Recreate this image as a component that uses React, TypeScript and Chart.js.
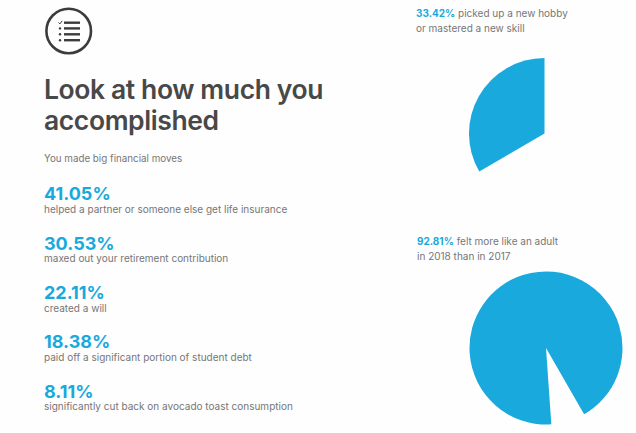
import React, { useEffect, useRef } from "react";
import { Chart, registerables } from "chart.js";

Chart.register(...registerables);

const headingLines = ["Look at how much you", "accomplished"];
const intro = "You made big financial moves";
const moveValues = [41.05, 30.53, 22.11, 18.38, 8.11];
const moveLabels = [
  "helped a partner or someone else get life insurance",
  "maxed out your retirement contribution",
  "created a will",
  "paid off a significant portion of student debt",
  "significantly cut back on avocado toast consumption",
];
const moveValueCentres = [193, 243, 292, 341, 391];
const moveLabelCentres = [209, 258, 308, 357, 406];

const hobbyShare = 33.42;
const hobbyCaption = ["picked up a new hobby", "or mastered a new skill"];
const adultShare = 92.81;
const adultCaption = ["felt more like an adult", "in 2018 than in 2017"];

const BLUE = "#19a9dc";
const DARK = "#484848";
const GREY = "#767676";
const FONT = "Inter, 'Noto Sans', sans-serif";

type PieProps = {
  share: number;
  rotation: number;
  radius: number;
  left: number;
  top: number;
  size: number;
};

function SharePie({ share, rotation, radius, left, top, size }: PieProps) {
  const ref = useRef<HTMLCanvasElement>(null);
  useEffect(() => {
    const chart = new Chart(ref.current!, {
      type: "pie",
      data: {
        labels: ["Yes", "Other"],
        datasets: [
          {
            data: [share, 100 - share],
            backgroundColor: [BLUE, "rgba(0,0,0,0)"],
            borderWidth: 0,
            radius,
          },
        ],
      },
      options: {
        responsive: false,
        animation: false,
        rotation,
        layout: { padding: 0 },
        plugins: { legend: { display: false }, tooltip: { enabled: false } },
      },
    });
    return () => chart.destroy();
  }, [share, rotation, radius]);
  return (
    <canvas
      ref={ref}
      width={size}
      height={size}
      style={{ position: "absolute", left, top, width: size, height: size }}
    />
  );
}

function Line(props: {
  x: number;
  cy: number;
  size: number;
  weight: number;
  color: string;
  spacing?: number;
  children: React.ReactNode;
}) {
  const { x, cy, size, weight, color, spacing = 0, children } = props;
  const box = Math.ceil(size * 1.15);
  return (
    <div
      style={{
        position: "absolute",
        left: x,
        top: cy - box / 2,
        height: box,
        lineHeight: `${box}px`,
        fontSize: size,
        fontWeight: weight,
        color,
        letterSpacing: spacing,
        whiteSpace: "nowrap",
      }}
    >
      {children}
    </div>
  );
}

function ChecklistIcon() {
  const rows = [22.7, 28.4, 34.3, 40.2];
  return (
    <svg
      width="60"
      height="60"
      viewBox="40 2 60 60"
      style={{ position: "absolute", left: 40, top: 2 }}
    >
      <circle cx="68.7" cy="31" r="22.3" fill="none" stroke="#3c3c3c" strokeWidth="2.6" />
      <path d="M58.5 22.5l1.4 1.4 2.2-3" fill="none" stroke="#3c3c3c" strokeWidth="1" />
      {rows.slice(1).map((y) => (
        <circle key={y} cx="60" cy={y} r="1.2" fill="#3c3c3c" />
      ))}
      {rows.map((y) => (
        <rect key={y} x="64" y={y - 1.2} width="16" height="2.4" fill="#3c3c3c" />
      ))}
    </svg>
  );
}

export default function App() {
  return (
    <div
      style={{
        position: "fixed",
        left: 0,
        top: 0,
        width: 636,
        height: 433,
        overflow: "hidden",
        background: "#fefefe",
        fontFamily: FONT,
      }}
    >
      <ChecklistIcon />
      <Line x={44} cy={89} size={26.5} weight={600} color={DARK} spacing={-0.4}>{headingLines[0]}</Line>
      <Line x={44} cy={120} size={26.5} weight={600} color={DARK} spacing={-0.4}>{headingLines[1]}</Line>
      <Line x={44} cy={159} size={9.8} weight={400} color={GREY}>{intro}</Line>
      {moveValues.map((v, i) => (
        <React.Fragment key={v}>
          <Line x={44} cy={moveValueCentres[i]} size={18} weight={700} color={BLUE}>
            {v.toFixed(2)}%
          </Line>
          <Line x={44} cy={moveLabelCentres[i]} size={10} weight={400} color={GREY}>
            {moveLabels[i]}
          </Line>
        </React.Fragment>
      ))}

      <Line x={416} cy={13} size={10} weight={400} color={GREY}>
        <span style={{ color: BLUE, fontWeight: 700 }}>{hobbyShare.toFixed(2)}%</span> {hobbyCaption[0]}
      </Line>
      <Line x={416} cy={28} size={10} weight={400} color={GREY}>{hobbyCaption[1]}</Line>
      <SharePie
        share={hobbyShare}
        rotation={-hobbyShare * 3.6}
        radius={75.5}
        left={468}
        top={57}
        size={153}
      />

      <Line x={417} cy={241} size={10} weight={400} color={GREY}>
        <span style={{ color: BLUE, fontWeight: 700 }}>{adultShare.toFixed(2)}%</span> {adultCaption[0]}
      </Line>
      <Line x={417} cy={256} size={10} weight={400} color={GREY}>{adultCaption[1]}</Line>
      <SharePie
        share={adultShare}
        rotation={176}
        radius={76.5}
        left={469}
        top={271}
        size={154}
      />
    </div>
  );
}
